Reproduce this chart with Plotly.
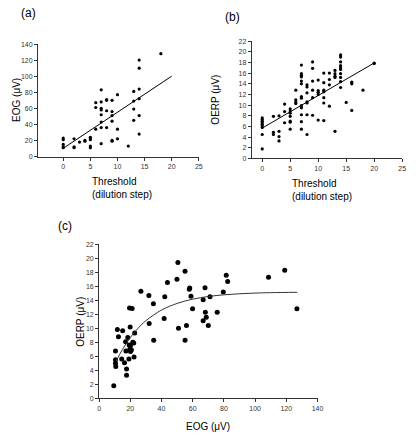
import plotly.graph_objects as go

# ---------- Panel (a): EOG vs threshold ----------
a_threshold = [0, 0, 0, 0, 0, 2, 2, 2, 3, 4, 4, 5, 5, 5, 5, 5, 6, 6, 6,
               7, 7, 7, 7, 7, 7, 7, 7, 8, 8, 8, 8, 9, 9, 9, 9, 9, 9,
               10, 10, 10, 12, 13, 13, 13, 13, 14, 14, 14, 14, 14, 14, 18]
a_eog = [23, 21, 15, 12, 11, 22, 12, 11, 18, 20, 19, 24, 23, 21, 13, 11, 67, 61, 34,
         83, 68, 60, 58, 52, 43, 36, 16, 71, 70, 57, 36, 70, 56, 51, 44, 20, 19,
         77, 34, 22, 13, 81, 69, 59, 45, 120, 110, 84, 72, 51, 28, 128]
a_fit_x = [0, 20]
a_fit_y = [10.2, 100]

# ---------- Panel (b): OERP vs threshold ----------
b_threshold = ([0] * 9 + [2] * 3 + [3] * 4 + [4] * 3 + [5] * 7 + [6] * 4 + [7] * 13 +
               [8] * 7 + [9] * 6 + [10] * 5 + [11] * 7 + [12] * 4 + [13] * 5 +
               [14] * 10 + [15] + [16] * 3 + [18] + [20] * 2)
b_oerp = [7.6, 7.3, 7.0, 6.7, 6.4, 6.1, 5.8, 4.5, 1.8,
          7.9, 4.9, 4.5,
          8.0, 5.1, 4.1, 3.3,
          10.2, 8.8, 6.7,
          9.3, 8.9, 8.5, 7.9, 7.0, 6.8, 5.5,
          12.8, 11.0, 10.6, 10.3,
          17.5, 15.9, 15.6, 15.3, 14.5, 14.0, 11.6, 11.3, 9.9, 9.5, 8.2, 6.9, 5.5,
          13.8, 13.4, 12.3, 10.6, 10.4, 8.2, 4.5,
          18.1, 16.9, 14.5, 12.8, 11.4, 8.1,
          14.7, 12.7, 12.4, 12.0, 7.2,
          16.0, 14.2, 12.8, 12.5, 11.4, 10.4, 7.1,
          16.0, 14.8, 13.8, 9.8,
          16.5, 15.9, 15.4, 15.2, 5.1,
          19.4, 19.0, 18.1, 17.4, 17.0, 16.7, 15.9, 15.2, 14.4, 13.3,
          10.5,
          14.3, 14.0, 9.0,
          12.8,
          17.9, 17.8]
b_fit_x = [0, 20]
b_fit_y = [5.7, 17.9]

# ---------- Panel (c): OERP vs EOG ----------
c_eog = [9.4, 10.5, 10.5, 10.5, 10.7, 11.7, 12.4, 14.5, 15.1, 16.3, 17.0, 17.2, 17.6, 17.6,
         18.4, 19.1, 19.3, 19.5, 19.7, 19.9, 20.1, 20.1, 20.7, 21.2, 21.6, 22.2, 22.4, 22.8,
         26.8, 31.9, 32.1, 34.8, 35.0, 41.7, 42.1, 43.8, 49.9, 50.5, 50.9, 55.1, 55.1, 56.0,
         57.8, 58.1, 58.9, 59.9, 66.7, 66.7, 67.9, 68.1, 68.7, 70.0, 71.1, 75.7, 79.6, 81.5,
         82.4, 108.6, 119.0, 126.8]
c_oerp = [1.8, 6.75, 5.5, 5.0, 4.55, 9.85, 8.8, 5.6, 9.66, 5.07, 8.07, 6.75, 4.2, 3.3,
          8.7, 5.6, 7.6, 12.9, 7.0, 10.2, 7.5, 6.7, 6.9, 12.85, 8.0, 7.9, 5.9, 9.33,
          15.3, 14.7, 10.7, 13.5, 8.3, 11.4, 14.5, 16.55, 17.0, 19.4, 10.0, 18.15, 8.3, 10.4,
          15.6, 15.75, 14.6, 12.8, 11.1, 14.1, 15.8, 12.3, 11.6, 10.4, 14.5, 12.3, 15.2, 17.6,
          16.7, 17.3, 18.3, 12.8]
c_curve_x = [11, 15, 20, 25, 30, 40, 50, 60, 70, 80, 90, 100, 110, 127]
c_curve_y = [5.32, 6.99, 8.68, 10.02, 11.09, 12.61, 13.56, 14.17, 14.55, 14.79, 14.94, 15.04, 15.10, 15.15]

W, H = 416, 437
FONT = "Liberation Sans, Arial, sans-serif"


def px(x):
    return x / W


def py(y):
    return 1 - y / H


fig = go.Figure()

dot_small = dict(color="black", size=3.2)
dot_big = dict(color="black", size=5)

fig.add_trace(go.Scatter(x=a_threshold, y=a_eog, mode="markers", marker=dot_small,
                         xaxis="x", yaxis="y", showlegend=False))
fig.add_trace(go.Scatter(x=a_fit_x, y=a_fit_y, mode="lines", line=dict(color="black", width=1),
                         xaxis="x", yaxis="y", showlegend=False))
fig.add_trace(go.Scatter(x=b_threshold, y=b_oerp, mode="markers", marker=dot_small,
                         xaxis="x2", yaxis="y2", showlegend=False))
fig.add_trace(go.Scatter(x=b_fit_x, y=b_fit_y, mode="lines", line=dict(color="black", width=1),
                         xaxis="x2", yaxis="y2", showlegend=False))
fig.add_trace(go.Scatter(x=c_eog, y=c_oerp, mode="markers", marker=dot_big,
                         xaxis="x3", yaxis="y3", showlegend=False))
fig.add_trace(go.Scatter(x=c_curve_x, y=c_curve_y, mode="lines",
                         line=dict(color="#333333", width=1, shape="spline"),
                         xaxis="x3", yaxis="y3", showlegend=False))

axis_common = dict(showgrid=False, zeroline=False, showline=True, linecolor="#333333",
                   linewidth=1, ticks="outside", ticklen=3, tickwidth=1, tickcolor="#333333",
                   tickfont=dict(family=FONT, size=7, color="#333333"))

fig.update_layout(
    width=W, height=H,
    margin=dict(l=0, r=0, t=0, b=0),
    paper_bgcolor="white", plot_bgcolor="white",
    font=dict(family=FONT, color="black"),
    xaxis=dict(axis_common, domain=[px(36.7), px(200.7)], range=[-4.65, 25], dtick=5,
               tick0=0, anchor="y"),
    yaxis=dict(axis_common, domain=[py(155), py(40.7)], range=[0, 140], dtick=20, anchor="x"),
    xaxis2=dict(axis_common, domain=[px(254.7), px(408)], range=[-1.86, 25], dtick=5,
                tick0=0, anchor="y2"),
    yaxis2=dict(axis_common, domain=[py(157), py(37.7)], range=[0, 22], dtick=2, anchor="x2"),
    xaxis3=dict(axis_common, domain=[px(99), px(321.7)], range=[0, 140], dtick=20, anchor="y3"),
    yaxis3=dict(axis_common, domain=[py(400.7), py(244.3)], range=[0, 22], dtick=2, anchor="x3"),
)

def note(text, x, y, size=10, xanchor="center", rot=0, align="center"):
    fig.add_annotation(text=text, x=px(x), y=py(y), xref="paper", yref="paper",
                       showarrow=False, xanchor=xanchor, yanchor="middle", textangle=rot,
                       align=align, font=dict(family=FONT, size=size, color="black"))

# panel labels
note("(a)", 27.5, 9.5, size=12)
note("(b)", 235, 13.5, size=12)
note("(c)", 64.5, 226, size=12)

# axis titles
note("EOG (μV)", 15, 97.8, rot=-90)
note("Threshold<br>(dilution step)", 89.5, 187.5, xanchor="left", align="left")
note("OERP (μV)", 218, 97.4, rot=-90)
note("Threshold<br>(dilution step)", 294, 189, xanchor="left", align="left")
note("OERP (μV)", 80, 322.5, rot=-90)
note("EOG (μV)", 210, 429)

fig.write_html("out.html", config={"displayModeBar": False},
               post_script="document.body.style.margin='0';")
